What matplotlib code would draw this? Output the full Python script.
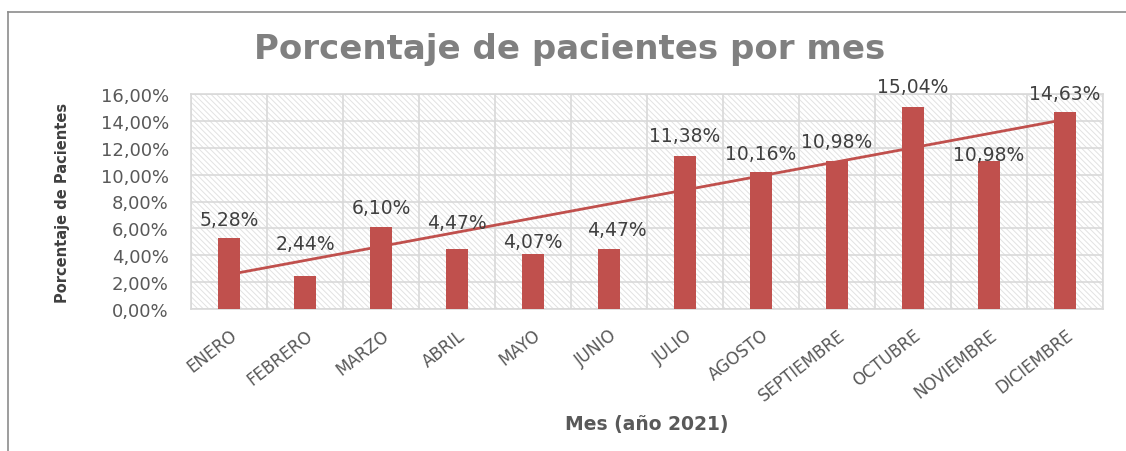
import numpy as np
import matplotlib.pyplot as plt
from matplotlib.patches import Rectangle
from matplotlib.lines import Line2D
from matplotlib.ticker import FuncFormatter, MultipleLocator

meses = ['ENERO', 'FEBRERO', 'MARZO', 'ABRIL', 'MAYO', 'JUNIO', 'JULIO',
         'AGOSTO', 'SEPTIEMBRE', 'OCTUBRE', 'NOVIEMBRE', 'DICIEMBRE']
porcentajes = [5.28, 2.44, 6.10, 4.47, 4.07, 4.47, 11.38, 10.16, 10.98, 15.04, 10.98, 14.63]

# label offsets above the bar top (pixels), labels were nudged by hand in the original
label_dy = [19, 33, 20, 26, 13, 19, 21, 19, 20, 20, 7, 19]
label_dx = [0, 0, 0, 0, 0, 8, 0, 0, 0, 0, 0, 0]

rojo = '#C0504D'
gris_rejilla = '#D9D9D9'

plt.rcParams['hatch.linewidth'] = 0.7

fig = plt.figure(figsize=(11.26, 4.52), dpi=100)
ax = fig.add_axes([191 / 1126, 1 - 310 / 452, (1103 - 191) / 1126, (310 - 95) / 452])

x = np.arange(len(meses))
y = np.array(porcentajes) / 100

# hatched plot area
ax.add_patch(Rectangle((0, 0), 1, 1, transform=ax.transAxes, facecolor='white',
                       edgecolor='#E2E2E2', hatch='\\' * 6, linewidth=0, zorder=0))
ax.set_facecolor('white')

ax.bar(x, y, width=0.28, color=rojo, zorder=3)

# linear trend
coef = np.polyfit(x, y, 1)
ax.plot(x, np.polyval(coef, x), color=rojo, linewidth=2, zorder=4)

for i, v in enumerate(y):
    txt = f'{porcentajes[i]:.2f}%'.replace('.', ',')
    ax.annotate(txt, (x[i], v), xytext=(label_dx[i], label_dy[i]), textcoords='offset pixels',
                ha='center', va='center', fontsize=13.5, color='#404040', zorder=5)

ax.set_xlim(-0.5, len(meses) - 0.5)
ax.set_ylim(0, 0.16)
ax.yaxis.set_major_locator(MultipleLocator(0.02))
ax.yaxis.set_major_formatter(FuncFormatter(lambda v, p: f'{v * 100:.2f}%'.replace('.', ',')))
ax.set_xticks(x)
ax.set_xticklabels(meses, rotation=38, ha='right', rotation_mode='anchor',
                   fontsize=12, color='#595959')
ax.set_xticks(np.arange(len(meses) + 1) - 0.5, minor=True)
ax.tick_params(axis='y', labelsize=13, labelcolor='#595959', length=0, pad=16)
ax.tick_params(axis='x', which='both', length=0, pad=12)

ax.grid(axis='y', which='major', color=gris_rejilla, linewidth=1.2, zorder=1)
ax.grid(axis='x', which='minor', color=gris_rejilla, linewidth=1.2, zorder=1)
ax.set_axisbelow(True)
for s in ax.spines.values():
    s.set_color(gris_rejilla)
    s.set_linewidth(1.2)

fig.text(570 / 1126, 1 - 50 / 452, 'Porcentaje de pacientes por mes', ha='center', va='center',
         fontsize=24.5, fontweight='bold', color='#808080')
fig.text(63 / 1126, 1 - 203 / 452, 'Porcentaje de Pacientes', rotation=90, ha='center',
         va='center', fontsize=10.5, fontweight='bold', color='#404040')
fig.text(647 / 1126, 1 - 425 / 452, 'Mes (año 2021)', ha='center', va='center',
         fontsize=13.5, fontweight='bold', color='#595959')

# outer chart border (top and left visible)
fig.add_artist(Line2D([8 / 1126, 1], [1 - 13 / 452, 1 - 13 / 452], transform=fig.transFigure,
                      color='#8C8C8C', linewidth=1.2))
fig.add_artist(Line2D([8 / 1126, 8 / 1126], [0, 1 - 13 / 452], transform=fig.transFigure,
                      color='#8C8C8C', linewidth=1.2))

fig.savefig('out.png', dpi=100)
